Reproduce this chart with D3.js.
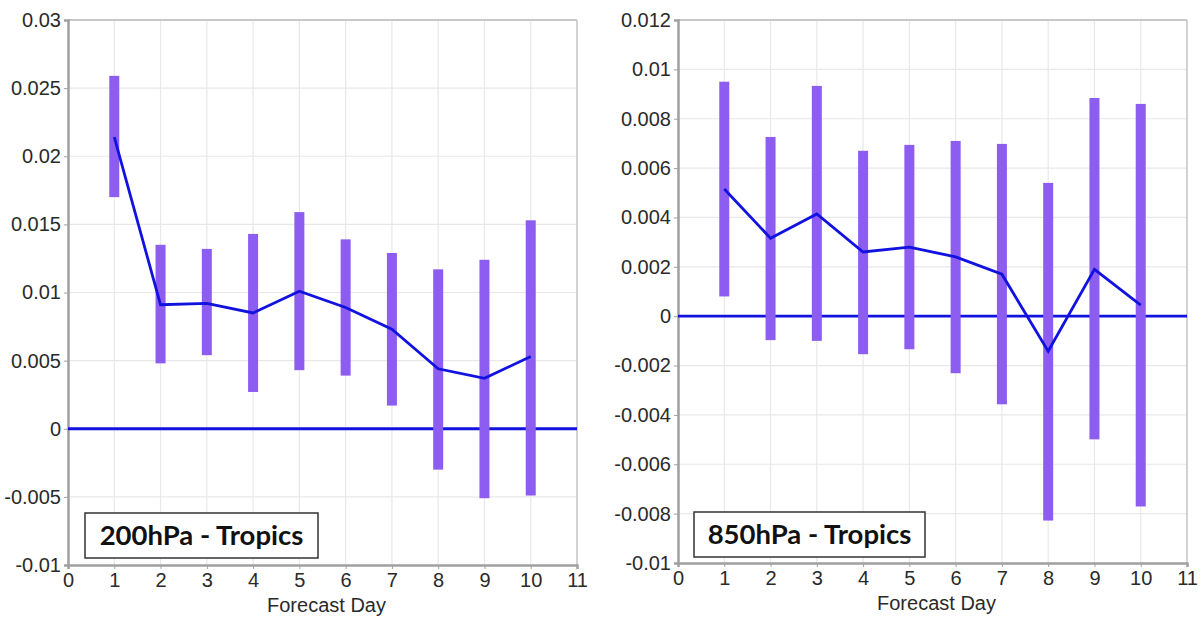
<!DOCTYPE html>
<html>
<head>
<meta charset="utf-8">
<script src="https://cdn.jsdelivr.net/npm/d3@7"></script>
<style>
  body { margin: 0; background: #fff; }
  svg { display: block; }
  .tick text { font-family: "Liberation Sans", Arial, sans-serif; font-size: 20px; fill: #2a2a2a; }
</style>
</head>
<body>
<svg id="chart" width="1201" height="619"></svg>
<script>
// forecast days
var days = [1, 2, 3, 4, 5, 6, 7, 8, 9, 10];
var xTicks = [0, 1, 2, 3, 4, 5, 6, 7, 8, 9, 10, 11];

// 200hPa - Tropics
var mean200 = [0.0214, 0.0091, 0.0092, 0.0085, 0.0101, 0.0089, 0.0073, 0.0044, 0.0037, 0.0053];
var upper200 = [0.0259, 0.0135, 0.0132, 0.0143, 0.0159, 0.0139, 0.0129, 0.0117, 0.0124, 0.0153];
var lower200 = [0.0170, 0.0048, 0.0054, 0.0027, 0.0043, 0.0039, 0.0017, -0.0030, -0.0051, -0.0049];
var yTicks200 = [-0.01, -0.005, 0, 0.005, 0.01, 0.015, 0.02, 0.025, 0.03];
var yLabels200 = ["-0.01", "-0.005", "0", "0.005", "0.01", "0.015", "0.02", "0.025", "0.03"];

// 850hPa - Tropics
var mean850 = [0.00515, 0.00316, 0.00414, 0.0026, 0.0028, 0.0024, 0.0017, -0.00142, 0.0019, 0.00045];
var upper850 = [0.0095, 0.00726, 0.00933, 0.0067, 0.00694, 0.0071, 0.00698, 0.0054, 0.00884, 0.0086];
var lower850 = [0.0008, -0.00097, -0.0010, -0.00154, -0.00134, -0.00231, -0.00357, -0.00828, -0.00499, -0.00771];
var yTicks850 = [-0.01, -0.008, -0.006, -0.004, -0.002, 0, 0.002, 0.004, 0.006, 0.008, 0.01, 0.012];
var yLabels850 = ["-0.01", "-0.008", "-0.006", "-0.004", "-0.002", "0", "0.002", "0.004", "0.006", "0.008", "0.01", "0.012"];

var BAR_COLOR = "#8d5cf0";
var LINE_COLOR = "#1212e0";

var svg = d3.select("#chart");

/**
 * Draws one panel: grid, axes, range bars, mean line and the title box.
 */
function drawPanel(opt) {
    var x = d3.scaleLinear().domain([0, 11]).range([opt.left, opt.right]);
    var y = d3.scaleLinear().domain([opt.yTicks[0], opt.yTicks[opt.yTicks.length - 1]])
        .range([opt.bottom, opt.top]);
    var g = svg.append("g");

    // grid
    g.selectAll(".vgrid").data(xTicks.slice(1)).enter().append("line")
        .attr("x1", d => x(d)).attr("x2", d => x(d))
        .attr("y1", opt.top).attr("y2", opt.bottom)
        .style("stroke", "#e8e8e8").style("stroke-width", 1.2);
    g.selectAll(".hgrid").data(opt.yTicks.slice(1)).enter().append("line")
        .attr("x1", opt.left).attr("x2", opt.right)
        .attr("y1", d => y(d)).attr("y2", d => y(d))
        .style("stroke", "#e8e8e8").style("stroke-width", 1.2);

    // frame (top and right)
    g.append("line").attr("x1", opt.left).attr("x2", opt.right)
        .attr("y1", opt.top).attr("y2", opt.top)
        .style("stroke", "#c8c8c8").style("stroke-width", 2);
    g.append("line").attr("x1", opt.right).attr("x2", opt.right)
        .attr("y1", opt.top).attr("y2", opt.bottom)
        .style("stroke", "#c8c8c8").style("stroke-width", 1.5);

    // axes
    var yAxis = d3.axisLeft(y).tickValues(opt.yTicks)
        .tickFormat((d, i) => opt.yLabels[i]).tickSize(4).tickPadding(3);
    var ya = g.append("g").attr("transform", "translate(" + opt.left + ",0)").call(yAxis);
    ya.select(".domain").style("stroke", "#a0a0a0").style("stroke-width", 2.5);
    ya.selectAll(".tick line").style("stroke", "#a0a0a0");

    var xAxis = d3.axisBottom(x).tickValues(xTicks).tickSize(4).tickPadding(4);
    var xa = g.append("g").attr("transform", "translate(0," + opt.bottom + ")").call(xAxis);
    xa.select(".domain").style("stroke", "#a0a0a0").style("stroke-width", 2.5);
    xa.selectAll(".tick line").style("stroke", "#a0a0a0");

    g.append("text")
        .attr("x", (opt.left + opt.right) / 2 + 4).attr("y", opt.bottom + 47)
        .attr("text-anchor", "middle")
        .style("font-family", "'Liberation Sans', Arial, sans-serif")
        .style("font-size", "20px").style("fill", "#2a2a2a")
        .text("Forecast Day");

    // zero line
    g.append("line").attr("x1", opt.left).attr("x2", opt.right)
        .attr("y1", y(0)).attr("y2", y(0))
        .style("stroke", LINE_COLOR).style("stroke-width", 2.8);

    // range bars
    g.selectAll(".bar").data(days).enter().append("rect")
        .attr("x", d => x(d) - 5).attr("width", 10)
        .attr("y", (d, i) => y(opt.upper[i]))
        .attr("height", (d, i) => y(opt.lower[i]) - y(opt.upper[i]))
        .style("fill", BAR_COLOR);

    // mean line
    var line = d3.line().x(d => x(d[0])).y(d => y(d[1]));
    g.append("path").datum(days.map((d, i) => [d, opt.mean[i]]))
        .attr("d", line)
        .style("fill", "none").style("stroke", LINE_COLOR).style("stroke-width", 2.8);

    // title box
    g.append("rect")
        .attr("x", opt.boxX).attr("y", opt.boxY).attr("width", opt.boxW).attr("height", 45)
        .style("fill", "#fff").style("stroke", "#333").style("stroke-width", 1.5);
    g.append("text")
        .attr("x", opt.boxX + opt.boxW / 2).attr("y", opt.boxY + 32)
        .attr("text-anchor", "middle")
        .style("font-family", "Lato, 'Open Sans', sans-serif")
        .style("font-weight", "bold").style("font-size", "27.5px").style("fill", "#111")
        .text(opt.title);
}

drawPanel({
    left: 68, right: 577, top: 20, bottom: 565,
    yTicks: yTicks200, yLabels: yLabels200,
    mean: mean200, upper: upper200, lower: lower200,
    title: "200hPa - Tropics", boxX: 85, boxY: 513, boxW: 233
});

drawPanel({
    left: 678, right: 1187, top: 20, bottom: 563,
    yTicks: yTicks850, yLabels: yLabels850,
    mean: mean850, upper: upper850, lower: lower850,
    title: "850hPa - Tropics", boxX: 694, boxY: 512, boxW: 231
});
</script>
</body>
</html>
